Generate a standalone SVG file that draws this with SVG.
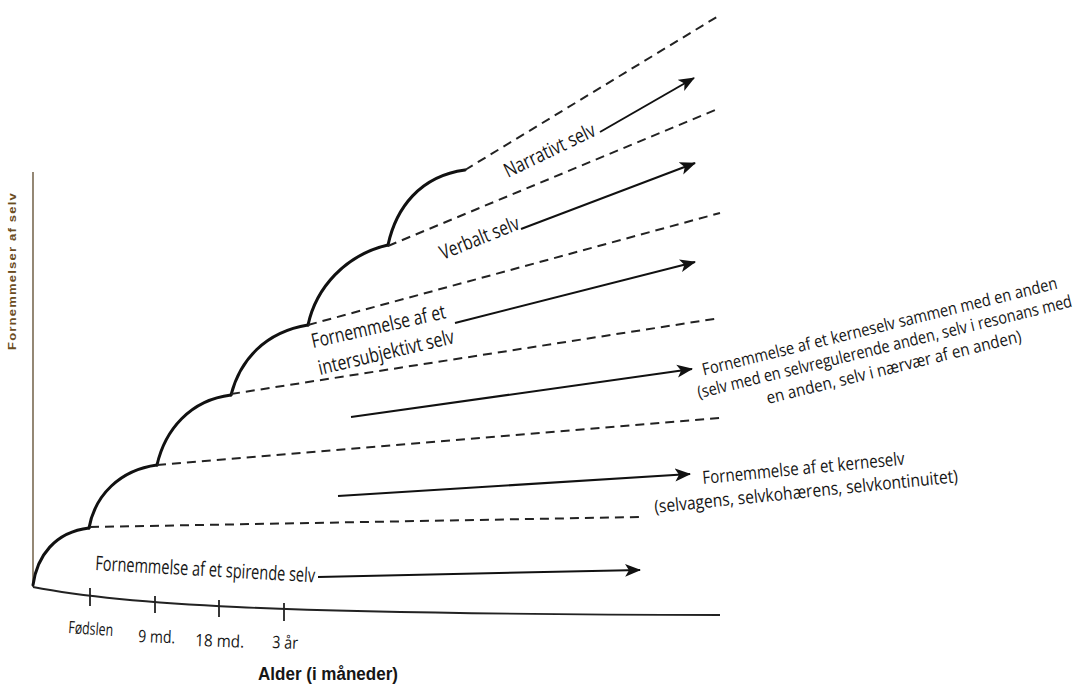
<svg xmlns="http://www.w3.org/2000/svg" width="1085" height="685" viewBox="0 0 1085 685">
<defs>
<style>
.lbl{font-family:"Open Sans","Liberation Sans",sans-serif;font-size:20px;fill:#161616;}
.sm{font-size:18px;}
.xs{font-size:17px;}
.arc{fill:none;stroke:#111;stroke-width:3;stroke-linecap:round;}
.dash{fill:none;stroke:#222;stroke-width:2;stroke-dasharray:9 6;}
.arr{fill:none;stroke:#111;stroke-width:2;marker-end:url(#ah);}
.axis{fill:none;stroke:#222;stroke-width:1.8;}
</style>
<marker id="ah" markerUnits="userSpaceOnUse" markerWidth="18" markerHeight="16" refX="15" refY="7" orient="auto">
<path d="M0,0.5 L16,7 L0,13.5 L4,7 Z" fill="#111"/>
</marker>
</defs>
<rect width="1085" height="685" fill="#fff"/>

<g id="axes">
<line x1="33" y1="172" x2="33" y2="587" stroke="#7a6a52" stroke-width="1.6"/>
<path class="axis" d="M33,587 C120,604 260,614 720,615"/>
<line class="axis" x1="90" y1="588" x2="90" y2="606"/>
<line class="axis" x1="155" y1="596" x2="155" y2="613"/>
<line class="axis" x1="219" y1="600" x2="219" y2="617"/>
<line class="axis" x1="284" y1="603" x2="284" y2="621"/>
<text transform="translate(16,271) rotate(-90)" text-anchor="middle" textLength="158" lengthAdjust="spacingAndGlyphs" style="font-family:'Liberation Sans',sans-serif;font-weight:bold;font-size:11px;fill:#6b4c1e;letter-spacing:1px">Fornemmelser af selv</text>
<text class="lbl xs" transform="translate(68,633) rotate(4)" textLength="45" lengthAdjust="spacingAndGlyphs">Fødslen</text>
<text class="lbl xs" transform="translate(138,642) rotate(2)" textLength="37" lengthAdjust="spacingAndGlyphs">9 md.</text>
<text class="lbl xs" transform="translate(195,646) rotate(2)" textLength="49" lengthAdjust="spacingAndGlyphs">18 md.</text>
<text class="lbl xs" transform="translate(272,648) rotate(2)" textLength="26" lengthAdjust="spacingAndGlyphs">3 år</text>
<text x="258" y="680" textLength="140" lengthAdjust="spacingAndGlyphs" style="font-family:'Liberation Sans',sans-serif;font-weight:bold;font-size:18px;fill:#161616">Alder (i måneder)</text>
</g>

<g id="boundary">
<path class="arc" d="M33,585 C37,556 55,532 89,528"/>
<path class="arc" d="M89,528 C95,495 120,470 157,465"/>
<path class="arc" d="M157,465 C165,430 190,400 231,395"/>
<path class="arc" d="M231,395 C240,360 265,332 308,325"/>
<path class="arc" d="M308,325 C316,288 345,255 388,245"/>
<path class="arc" d="M388,245 C396,208 420,176 465,170"/>
</g>

<g id="connectors">
<line class="dash" x1="90" y1="527" x2="640" y2="517"/>
<line class="dash" x1="157" y1="465" x2="720" y2="418"/>
<line class="dash" x1="231" y1="394" x2="720" y2="318"/>
<line class="dash" x1="308" y1="325" x2="720" y2="213"/>
<line class="dash" x1="388" y1="246" x2="720" y2="108"/>
<line class="dash" x1="465" y1="170" x2="720" y2="15"/>
<line class="arr" x1="318" y1="577" x2="640" y2="570"/>
<line class="arr" x1="338" y1="496" x2="690" y2="474"/>
<line class="arr" x1="351" y1="417" x2="692" y2="369"/>
<line class="arr" x1="455" y1="323" x2="695" y2="262"/>
<line class="arr" x1="521" y1="229" x2="695" y2="163"/>
<line class="arr" x1="600" y1="132" x2="694" y2="78"/>
</g>

<g id="n-spirende">
<text class="lbl" transform="translate(95,570) rotate(3.2)" textLength="220" lengthAdjust="spacingAndGlyphs">Fornemmelse af et spirende selv</text>
</g>
<g id="n-kerneselv">
<text class="lbl sm" transform="translate(703,484) rotate(-5.5)" textLength="203" lengthAdjust="spacingAndGlyphs">Fornemmelse af et kerneselv</text>
<text class="lbl sm" transform="translate(655,513) rotate(-5.8)" textLength="305" lengthAdjust="spacingAndGlyphs">(selvagens, selvkohærens, selvkontinuitet)</text>
</g>
<g id="n-kerneselv-anden" transform="translate(881,332) rotate(-13.8)">
<text class="lbl xs" x="0" y="0" text-anchor="middle" textLength="365" lengthAdjust="spacingAndGlyphs">Fornemmelse af et kerneselv sammen med en anden</text>
<text class="lbl xs" x="0" y="21" text-anchor="middle" textLength="385" lengthAdjust="spacingAndGlyphs">(selv med en selvregulerende anden, selv i resonans med</text>
<text class="lbl xs" x="4" y="43" text-anchor="middle" textLength="262" lengthAdjust="spacingAndGlyphs">en anden, selv i nærvær af en anden)</text>
</g>
<g id="n-intersubjektivt">
<text class="lbl" transform="translate(313,348) rotate(-12.6)" textLength="137" lengthAdjust="spacingAndGlyphs">Fornemmelse af et</text>
<text class="lbl" transform="translate(320,375) rotate(-13.3)" textLength="139" lengthAdjust="spacingAndGlyphs">intersubjektivt selv</text>
</g>
<g id="n-verbalt">
<text class="lbl" transform="translate(443,260) rotate(-22)" textLength="84" lengthAdjust="spacingAndGlyphs">Verbalt selv</text>
</g>
<g id="n-narrativt">
<text class="lbl" transform="translate(508,178) rotate(-25.8)" textLength="99" lengthAdjust="spacingAndGlyphs">Narrativt selv</text>
</g>
</svg>
